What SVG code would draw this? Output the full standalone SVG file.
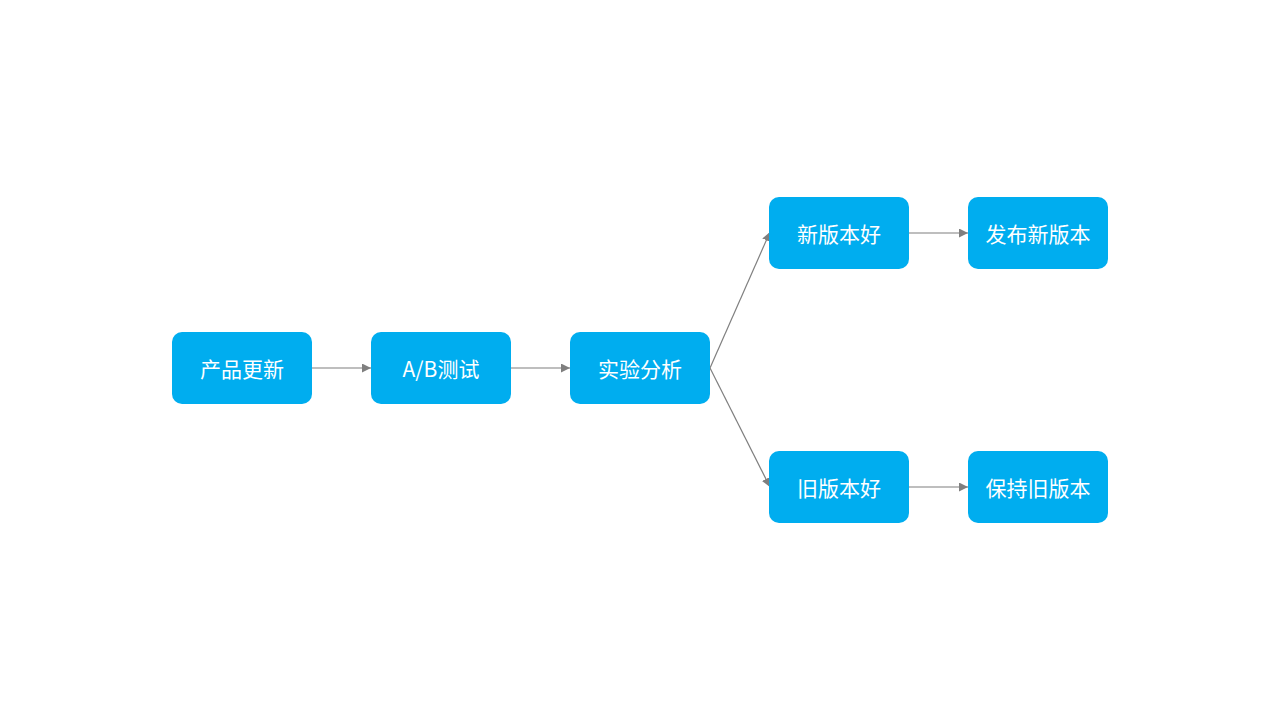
<svg xmlns="http://www.w3.org/2000/svg" width="1280" height="720" viewBox="0 0 1280 720">
<defs>
<marker id="ah" viewBox="0 0 10 10" refX="10" refY="5" markerWidth="9" markerHeight="9" markerUnits="userSpaceOnUse" orient="auto">
<path d="M0,0 L10,5 L0,10 z" fill="#7f7f7f"/>
</marker>
<style>
.n rect{fill:#00adef;}
.n text{fill:#ffffff;font-family:"Noto Sans CJK SC","Noto Sans",sans-serif;font-size:21px;text-anchor:middle;dominant-baseline:central;}
.c line{stroke:#7f7f7f;stroke-width:1.2;marker-end:url(#ah);}
</style>
</defs>
<rect width="1280" height="720" fill="#ffffff"/>
<g class="c" id="connectors">
<line x1="312" y1="368" x2="371" y2="368"/>
<line x1="511" y1="368" x2="570" y2="368"/>
<line x1="710" y1="368" x2="770" y2="232"/>
<line x1="710" y1="368" x2="770" y2="487"/>
<line x1="909" y1="233" x2="968" y2="233"/>
<line x1="909" y1="487" x2="968" y2="487"/>
</g>
<g class="n" id="n1"><rect x="172" y="332" width="140" height="72" rx="10"/><text x="242" y="368">产品更新</text></g>
<g class="n" id="n2"><rect x="371" y="332" width="140" height="72" rx="10"/><text x="441" y="368">A/B测试</text></g>
<g class="n" id="n3"><rect x="570" y="332" width="140" height="72" rx="10"/><text x="640" y="368">实验分析</text></g>
<g class="n" id="n4"><rect x="769" y="197" width="140" height="72" rx="10"/><text x="839" y="233">新版本好</text></g>
<g class="n" id="n5"><rect x="968" y="197" width="140" height="72" rx="10"/><text x="1038" y="233">发布新版本</text></g>
<g class="n" id="n6"><rect x="769" y="451" width="140" height="72" rx="10"/><text x="839" y="487">旧版本好</text></g>
<g class="n" id="n7"><rect x="968" y="451" width="140" height="72" rx="10"/><text x="1038" y="487">保持旧版本</text></g>
</svg>
